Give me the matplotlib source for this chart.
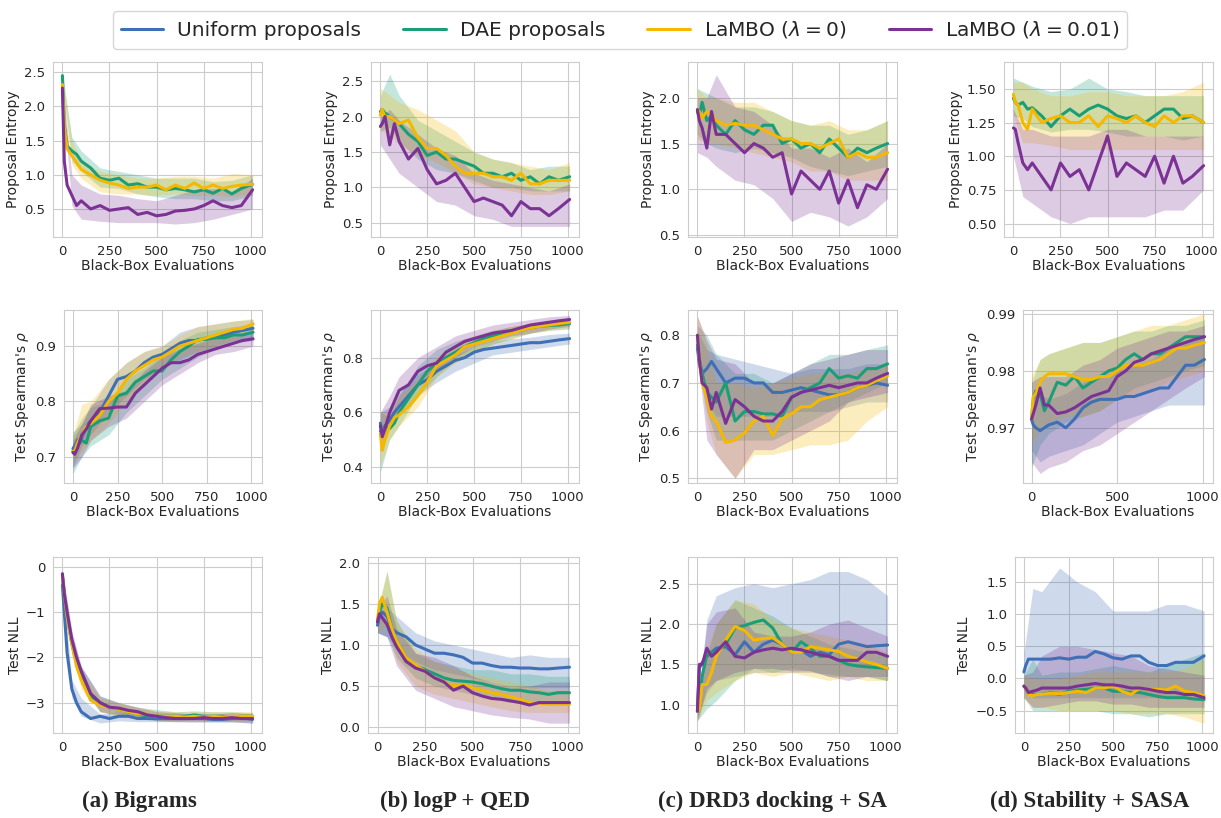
import matplotlib
matplotlib.use('Agg')
import matplotlib.pyplot as plt
import seaborn as sns

sns.set_style('whitegrid')
plt.rcParams['font.family'] = ['DejaVu Sans']

# x positions of the mean curves and of the shaded bands
evals = [0, 10, 25, 50, 75, 100, 150, 200, 250, 300, 350, 400, 450, 500,
         550, 600, 650, 700, 750, 800, 850, 900, 950, 1010]
band_evals = [0, 50, 100, 200, 300, 400, 500, 600, 700, 800, 900, 1010]

methods = ['Uniform proposals', 'DAE proposals',
           r'LaMBO ($\lambda = 0$)', r'LaMBO ($\lambda = 0.01$)']
colors = ['#3f6fb5', '#1b9e77', '#f5b800', '#7b3294']
tasks = ['(a) Bigrams', '(b) logP + QED', '(c) DRD3 docking + SA', '(d) Stability + SASA']
metrics = ['Proposal Entropy', "Test Spearman's $\\rho$", 'Test NLL']

# ---- row 1: proposal entropy (order: uniform, dae, lambo0, lambo0.01) ----
ent_a_mean = [None,
              [2.45, 1.75, 1.42, 1.35, 1.3, 1.2, 1.1, 0.95, 0.92, 0.95, 0.85, 0.87, 0.82, 0.82, 0.78, 0.8, 0.78, 0.75, 0.78, 0.73, 0.8, 0.72, 0.8, 0.86],
              [2.32, 1.7, 1.38, 1.28, 1.18, 1.08, 1.0, 0.92, 0.88, 0.85, 0.8, 0.82, 0.82, 0.85, 0.78, 0.85, 0.8, 0.88, 0.8, 0.85, 0.8, 0.83, 0.85, 0.86],
              [2.27, 1.2, 0.85, 0.7, 0.55, 0.62, 0.5, 0.55, 0.48, 0.5, 0.52, 0.42, 0.45, 0.4, 0.42, 0.47, 0.48, 0.5, 0.55, 0.62, 0.55, 0.52, 0.55, 0.78]]
ent_a_lo = [None,
            [2.35, 1.2, 1.05, 0.82, 0.8, 0.72, 0.68, 0.65, 0.65, 0.62, 0.62, 0.7],
            [2.25, 1.15, 0.95, 0.75, 0.72, 0.72, 0.7, 0.72, 0.7, 0.7, 0.68, 0.72],
            [2.2, 0.55, 0.35, 0.32, 0.3, 0.3, 0.3, 0.28, 0.3, 0.35, 0.42, 0.5]]
ent_a_hi = [None,
            [2.5, 1.55, 1.35, 1.1, 1.05, 1.0, 0.95, 0.95, 0.95, 0.9, 0.92, 1.0],
            [2.4, 1.5, 1.2, 1.05, 1.0, 0.95, 0.95, 0.98, 0.98, 0.95, 1.02, 1.0],
            [2.35, 1.0, 0.85, 0.72, 0.7, 0.65, 0.62, 0.7, 0.78, 0.8, 0.75, 0.95]]

ent_b_mean = [None,
              [2.07, 2.1, 2.05, 2.0, 1.95, 1.9, 1.75, 1.65, 1.45, 1.5, 1.4, 1.4, 1.35, 1.3, 1.2, 1.2, 1.15, 1.2, 1.1, 1.15, 1.05, 1.15, 1.1, 1.15],
              [2.02, 2.1, 2.0, 2.0, 1.95, 1.9, 1.95, 1.7, 1.55, 1.55, 1.45, 1.3, 1.2, 1.2, 1.2, 1.15, 1.15, 1.1, 1.2, 1.05, 1.05, 1.1, 1.1, 1.1],
              [1.86, 1.9, 2.0, 1.6, 1.9, 1.65, 1.4, 1.55, 1.25, 1.05, 1.1, 1.2, 1.0, 0.8, 0.85, 0.8, 0.75, 0.6, 0.8, 0.7, 0.7, 0.6, 0.7, 0.83]]
ent_b_lo = [None,
            [1.8, 1.85, 1.65, 1.4, 1.25, 1.2, 1.1, 1.0, 1.0, 0.95, 0.95, 0.95],
            [1.8, 1.75, 1.6, 1.45, 1.35, 1.2, 1.05, 1.0, 0.95, 0.9, 0.9, 0.95],
            [1.6, 1.4, 1.2, 1.0, 0.8, 0.75, 0.6, 0.55, 0.45, 0.45, 0.45, 0.45]]
ent_b_hi = [None,
            [2.3, 2.6, 2.3, 1.95, 1.8, 1.65, 1.5, 1.4, 1.35, 1.25, 1.3, 1.3],
            [2.4, 2.3, 2.2, 2.1, 1.95, 1.8, 1.5, 1.4, 1.35, 1.3, 1.25, 1.35],
            [2.0, 2.1, 1.95, 1.75, 1.55, 1.45, 1.2, 1.1, 1.05, 1.0, 0.95, 1.05]]

ent_c_mean = [None,
              [1.85, 1.8, 1.95, 1.75, 1.8, 1.7, 1.6, 1.75, 1.65, 1.6, 1.7, 1.7, 1.5, 1.55, 1.45, 1.5, 1.4, 1.55, 1.45, 1.35, 1.45, 1.4, 1.45, 1.5],
              [1.87, 1.85, 1.78, 1.85, 1.82, 1.75, 1.7, 1.72, 1.7, 1.7, 1.65, 1.6, 1.55, 1.55, 1.5, 1.5, 1.45, 1.5, 1.55, 1.35, 1.4, 1.35, 1.35, 1.4],
              [1.87, 1.75, 1.67, 1.45, 1.85, 1.6, 1.6, 1.5, 1.4, 1.5, 1.45, 1.35, 1.4, 0.95, 1.2, 1.1, 1.0, 1.2, 0.85, 1.1, 0.8, 1.05, 1.0, 1.22]]
ent_c_lo = [None,
            [1.6, 1.5, 1.45, 1.4, 1.45, 1.4, 1.35, 1.25, 1.2, 1.15, 1.2, 1.25],
            [1.55, 1.5, 1.5, 1.45, 1.4, 1.35, 1.3, 1.2, 1.2, 1.1, 1.1, 1.1],
            [1.4, 1.35, 1.25, 1.1, 1.05, 0.9, 0.65, 0.75, 0.7, 0.6, 0.7, 0.9]]
ent_c_hi = [None,
            [2.1, 2.05, 2.0, 1.9, 1.9, 1.85, 1.75, 1.7, 1.7, 1.6, 1.65, 1.75],
            [2.1, 2.0, 2.0, 1.95, 1.95, 1.85, 1.75, 1.7, 1.75, 1.65, 1.65, 1.75],
            [2.0, 2.0, 2.25, 1.9, 1.85, 1.7, 1.45, 1.45, 1.35, 1.45, 1.3, 1.5]]

ent_d_mean = [None,
              [1.43, 1.4, 1.38, 1.4, 1.35, 1.36, 1.3, 1.22, 1.3, 1.35, 1.3, 1.35, 1.38, 1.35, 1.3, 1.28, 1.3, 1.25, 1.3, 1.35, 1.35, 1.28, 1.3, 1.25],
              [1.46, 1.4, 1.38, 1.25, 1.2, 1.35, 1.25, 1.28, 1.3, 1.25, 1.25, 1.3, 1.22, 1.3, 1.28, 1.25, 1.3, 1.25, 1.22, 1.3, 1.25, 1.3, 1.3, 1.25],
              [1.21, 1.2, 1.1, 0.95, 0.9, 0.95, 0.85, 0.75, 0.95, 0.85, 0.9, 0.75, 0.95, 1.15, 0.85, 0.95, 0.9, 0.85, 1.0, 0.8, 1.0, 0.8, 0.85, 0.93]]
ent_d_lo = [None,
            [1.3, 1.28, 1.22, 1.18, 1.2, 1.2, 1.18, 1.15, 1.15, 1.15, 1.12, 1.15],
            [1.3, 1.1, 1.1, 1.08, 1.05, 1.05, 1.05, 1.05, 1.05, 1.05, 1.05, 1.05],
            [1.0, 0.7, 0.65, 0.55, 0.5, 0.55, 0.55, 0.55, 0.55, 0.6, 0.6, 0.75]]
ent_d_hi = [None,
            [1.58, 1.55, 1.52, 1.48, 1.5, 1.58, 1.5, 1.48, 1.45, 1.45, 1.45, 1.45],
            [1.55, 1.55, 1.5, 1.45, 1.45, 1.48, 1.48, 1.45, 1.45, 1.45, 1.48, 1.55],
            [1.35, 1.2, 1.2, 1.15, 1.15, 1.15, 1.2, 1.2, 1.15, 1.15, 1.15, 1.15]]

# ---- row 2: test spearman rho ----
rho_a_mean = [[0.715, 0.72, 0.73, 0.735, 0.755, 0.765, 0.78, 0.81, 0.84, 0.845, 0.855, 0.87, 0.88, 0.885, 0.895, 0.905, 0.91, 0.91, 0.915, 0.915, 0.92, 0.925, 0.928, 0.932],
              [0.71, 0.705, 0.72, 0.73, 0.725, 0.755, 0.765, 0.77, 0.81, 0.815, 0.835, 0.845, 0.855, 0.855, 0.875, 0.89, 0.9, 0.912, 0.912, 0.915, 0.915, 0.92, 0.92, 0.925],
              [0.71, 0.71, 0.725, 0.74, 0.755, 0.76, 0.775, 0.8, 0.815, 0.84, 0.855, 0.865, 0.875, 0.88, 0.89, 0.9, 0.905, 0.91, 0.915, 0.92, 0.925, 0.93, 0.932, 0.94],
              [0.708, 0.705, 0.715, 0.74, 0.75, 0.765, 0.787, 0.788, 0.79, 0.79, 0.815, 0.83, 0.845, 0.86, 0.87, 0.87, 0.875, 0.885, 0.89, 0.895, 0.9, 0.905, 0.91, 0.913]]
rho_a_lo = [[0.68, 0.72, 0.74, 0.78, 0.81, 0.84, 0.86, 0.875, 0.89, 0.9, 0.91, 0.915],
            [0.67, 0.7, 0.72, 0.74, 0.78, 0.81, 0.84, 0.86, 0.88, 0.895, 0.905, 0.91],
            [0.69, 0.71, 0.73, 0.76, 0.8, 0.83, 0.86, 0.88, 0.89, 0.9, 0.91, 0.925],
            [0.68, 0.7, 0.73, 0.755, 0.77, 0.8, 0.83, 0.85, 0.87, 0.885, 0.89, 0.9]]
rho_a_hi = [[0.745, 0.76, 0.79, 0.84, 0.87, 0.89, 0.9, 0.925, 0.935, 0.94, 0.945, 0.948],
            [0.74, 0.77, 0.79, 0.8, 0.84, 0.86, 0.885, 0.91, 0.925, 0.93, 0.935, 0.94],
            [0.74, 0.795, 0.8, 0.84, 0.87, 0.89, 0.9, 0.92, 0.935, 0.94, 0.945, 0.95],
            [0.73, 0.76, 0.795, 0.81, 0.82, 0.855, 0.88, 0.895, 0.905, 0.915, 0.92, 0.925]]

rho_b_mean = [[0.56, 0.52, 0.55, 0.57, 0.6, 0.62, 0.66, 0.7, 0.72, 0.75, 0.77, 0.79, 0.8, 0.82, 0.83, 0.835, 0.84, 0.845, 0.85, 0.855, 0.855, 0.86, 0.865, 0.87],
              [0.53, 0.52, 0.55, 0.54, 0.56, 0.6, 0.65, 0.7, 0.75, 0.78, 0.8, 0.82, 0.84, 0.855, 0.87, 0.88, 0.89, 0.895, 0.9, 0.91, 0.915, 0.918, 0.92, 0.925],
              [0.52, 0.46, 0.5, 0.55, 0.58, 0.59, 0.62, 0.66, 0.71, 0.77, 0.79, 0.81, 0.84, 0.85, 0.86, 0.87, 0.88, 0.89, 0.9, 0.91, 0.915, 0.92, 0.925, 0.93],
              [0.55, 0.51, 0.54, 0.6, 0.64, 0.68, 0.7, 0.75, 0.77, 0.78, 0.82, 0.84, 0.86, 0.87, 0.88, 0.89, 0.895, 0.9, 0.91, 0.92, 0.925, 0.93, 0.935, 0.94]]
rho_b_lo = [[0.5, 0.55, 0.6, 0.66, 0.71, 0.75, 0.78, 0.81, 0.82, 0.83, 0.84, 0.85],
            [0.38, 0.5, 0.55, 0.66, 0.73, 0.79, 0.82, 0.85, 0.87, 0.89, 0.9, 0.905],
            [0.4, 0.5, 0.55, 0.62, 0.73, 0.78, 0.82, 0.85, 0.87, 0.89, 0.9, 0.91],
            [0.48, 0.55, 0.62, 0.71, 0.76, 0.8, 0.84, 0.86, 0.88, 0.89, 0.905, 0.915]]
rho_b_hi = [[0.6, 0.62, 0.67, 0.74, 0.78, 0.81, 0.84, 0.86, 0.87, 0.875, 0.885, 0.89],
            [0.6, 0.58, 0.66, 0.77, 0.83, 0.86, 0.88, 0.9, 0.915, 0.925, 0.935, 0.94],
            [0.6, 0.6, 0.66, 0.72, 0.8, 0.85, 0.88, 0.9, 0.915, 0.925, 0.935, 0.94],
            [0.6, 0.66, 0.73, 0.8, 0.84, 0.88, 0.9, 0.92, 0.93, 0.94, 0.95, 0.955]]

rho_c_mean = [[0.775, 0.74, 0.72, 0.73, 0.745, 0.73, 0.7, 0.71, 0.71, 0.7, 0.7, 0.68, 0.68, 0.685, 0.69, 0.685, 0.68, 0.675, 0.675, 0.68, 0.69, 0.695, 0.7, 0.695],
              [0.78, 0.75, 0.72, 0.68, 0.67, 0.66, 0.7, 0.62, 0.64, 0.64, 0.635, 0.635, 0.63, 0.67, 0.68, 0.69, 0.7, 0.73, 0.71, 0.715, 0.71, 0.73, 0.73, 0.74],
              [0.8, 0.75, 0.7, 0.67, 0.63, 0.62, 0.575, 0.58, 0.595, 0.62, 0.63, 0.59, 0.625, 0.635, 0.65, 0.65, 0.665, 0.67, 0.675, 0.68, 0.69, 0.695, 0.705, 0.715],
              [0.8, 0.75, 0.7, 0.69, 0.645, 0.68, 0.615, 0.665, 0.65, 0.63, 0.62, 0.62, 0.64, 0.67, 0.68, 0.685, 0.69, 0.695, 0.69, 0.695, 0.7, 0.7, 0.71, 0.72]]
rho_c_lo = [[0.74, 0.66, 0.63, 0.63, 0.63, 0.63, 0.64, 0.64, 0.64, 0.65, 0.66, 0.66],
            [0.74, 0.64, 0.58, 0.58, 0.58, 0.58, 0.6, 0.62, 0.64, 0.66, 0.68, 0.7],
            [0.76, 0.62, 0.55, 0.5, 0.55, 0.55, 0.56, 0.57, 0.57, 0.58, 0.62, 0.65],
            [0.76, 0.58, 0.55, 0.5, 0.56, 0.56, 0.58, 0.6, 0.62, 0.66, 0.67, 0.68]]
rho_c_hi = [[0.81, 0.77, 0.76, 0.75, 0.74, 0.73, 0.72, 0.73, 0.73, 0.73, 0.74, 0.74],
            [0.82, 0.8, 0.76, 0.72, 0.72, 0.7, 0.72, 0.74, 0.76, 0.76, 0.77, 0.78],
            [0.84, 0.78, 0.7, 0.7, 0.69, 0.7, 0.71, 0.72, 0.72, 0.72, 0.73, 0.74],
            [0.84, 0.79, 0.75, 0.74, 0.7, 0.7, 0.72, 0.74, 0.75, 0.76, 0.77, 0.77]]

rho_d_mean = [[0.9715, 0.9705, 0.97, 0.9695, 0.97, 0.9705, 0.971, 0.97, 0.9715, 0.9735, 0.9745, 0.975, 0.975, 0.975, 0.9755, 0.9755, 0.976, 0.9765, 0.977, 0.977, 0.979, 0.981, 0.981, 0.982],
              [0.9715, 0.975, 0.9765, 0.976, 0.973, 0.9745, 0.978, 0.9775, 0.979, 0.977, 0.978, 0.979, 0.98, 0.9805, 0.982, 0.983, 0.982, 0.983, 0.983, 0.984, 0.985, 0.986, 0.986, 0.986],
              [0.9715, 0.9755, 0.976, 0.978, 0.979, 0.9795, 0.9795, 0.9795, 0.979, 0.9785, 0.9785, 0.979, 0.979, 0.98, 0.981, 0.981, 0.981, 0.9815, 0.982, 0.983, 0.984, 0.984, 0.9845, 0.985],
              [0.9715, 0.9725, 0.974, 0.977, 0.974, 0.974, 0.9725, 0.9728, 0.9735, 0.9745, 0.9755, 0.976, 0.9765, 0.979, 0.98, 0.9815, 0.982, 0.983, 0.9835, 0.984, 0.9845, 0.985, 0.9855, 0.986]]
rho_d_lo = [[0.966, 0.964, 0.965, 0.966, 0.967, 0.969, 0.971, 0.972, 0.973, 0.974, 0.974, 0.974],
            [0.963, 0.967, 0.969, 0.971, 0.972, 0.973, 0.975, 0.977, 0.978, 0.979, 0.98, 0.981],
            [0.967, 0.97, 0.971, 0.972, 0.972, 0.973, 0.975, 0.976, 0.977, 0.978, 0.979, 0.98],
            [0.964, 0.962, 0.963, 0.964, 0.966, 0.967, 0.969, 0.971, 0.973, 0.975, 0.977, 0.979]]
rho_d_hi = [[0.976, 0.976, 0.975, 0.976, 0.978, 0.979, 0.98, 0.981, 0.982, 0.984, 0.985, 0.986],
            [0.978, 0.982, 0.983, 0.984, 0.985, 0.985, 0.986, 0.987, 0.987, 0.988, 0.988, 0.989],
            [0.979, 0.982, 0.983, 0.984, 0.985, 0.985, 0.986, 0.987, 0.988, 0.988, 0.989, 0.99],
            [0.978, 0.979, 0.979, 0.979, 0.981, 0.982, 0.984, 0.985, 0.986, 0.987, 0.987, 0.988]]

# ---- row 3: test NLL ----
nll_a_mean = [[-0.4, -1.0, -1.9, -2.7, -3.0, -3.2, -3.35, -3.3, -3.35, -3.3, -3.3, -3.35, -3.35, -3.35, -3.35, -3.35, -3.35, -3.35, -3.35, -3.37, -3.37, -3.35, -3.33, -3.37],
              [-0.2, -0.6, -1.1, -1.7, -2.1, -2.4, -2.85, -3.0, -3.1, -3.15, -3.2, -3.25, -3.3, -3.3, -3.3, -3.3, -3.3, -3.27, -3.3, -3.3, -3.3, -3.32, -3.3, -3.3],
              [-0.2, -0.6, -1.1, -1.7, -2.2, -2.5, -2.95, -3.05, -3.1, -3.15, -3.2, -3.25, -3.25, -3.3, -3.3, -3.3, -3.32, -3.3, -3.32, -3.3, -3.32, -3.3, -3.3, -3.3],
              [-0.15, -0.6, -1.0, -1.6, -2.0, -2.3, -2.8, -3.0, -3.1, -3.12, -3.17, -3.2, -3.27, -3.3, -3.33, -3.35, -3.35, -3.35, -3.33, -3.35, -3.35, -3.33, -3.35, -3.35]]
nll_a_lo = [[-0.5, -2.9, -3.3, -3.45, -3.4, -3.42, -3.42, -3.42, -3.43, -3.43, -3.43, -3.45],
            [-0.3, -1.9, -2.6, -3.2, -3.3, -3.35, -3.4, -3.4, -3.38, -3.4, -3.4, -3.4],
            [-0.3, -1.9, -2.7, -3.2, -3.3, -3.35, -3.38, -3.4, -3.4, -3.4, -3.4, -3.4],
            [-0.25, -1.8, -2.6, -3.2, -3.25, -3.3, -3.4, -3.42, -3.42, -3.42, -3.42, -3.45]]
nll_a_hi = [[-0.3, -2.5, -2.9, -3.25, -3.2, -3.25, -3.27, -3.28, -3.28, -3.3, -3.28, -3.3],
            [-0.1, -1.5, -2.2, -2.85, -3.0, -3.1, -3.15, -3.2, -3.18, -3.2, -3.2, -3.22],
            [-0.1, -1.5, -2.3, -2.9, -3.0, -3.1, -3.18, -3.2, -3.2, -3.2, -3.2, -3.2],
            [-0.05, -1.4, -2.2, -2.85, -3.0, -3.1, -3.2, -3.22, -3.25, -3.25, -3.22, -3.25]]

nll_b_mean = [[1.24, 1.35, 1.4, 1.35, 1.2, 1.15, 1.1, 1.0, 0.95, 0.9, 0.9, 0.88, 0.85, 0.78, 0.78, 0.75, 0.73, 0.73, 0.72, 0.72, 0.71, 0.71, 0.72, 0.73],
              [1.28, 1.4, 1.5, 1.45, 1.2, 1.05, 0.85, 0.75, 0.7, 0.65, 0.6, 0.57, 0.56, 0.55, 0.53, 0.5, 0.47, 0.45, 0.45, 0.43, 0.42, 0.4, 0.42, 0.42],
              [1.3, 1.5, 1.58, 1.4, 1.2, 1.05, 0.85, 0.76, 0.68, 0.6, 0.55, 0.5, 0.52, 0.48, 0.45, 0.42, 0.4, 0.37, 0.34, 0.3, 0.29, 0.28, 0.28, 0.28],
              [1.28, 1.38, 1.33, 1.25, 1.1, 0.98, 0.8, 0.72, 0.68, 0.6, 0.55, 0.45, 0.5, 0.42, 0.38, 0.35, 0.34, 0.32, 0.3, 0.27, 0.3, 0.3, 0.3, 0.3]]
nll_b_lo = [[1.15, 1.1, 0.95, 0.8, 0.7, 0.65, 0.6, 0.55, 0.5, 0.48, 0.48, 0.48],
            [1.15, 1.1, 0.85, 0.6, 0.5, 0.45, 0.4, 0.35, 0.3, 0.3, 0.3, 0.3],
            [1.15, 1.25, 0.8, 0.5, 0.4, 0.35, 0.3, 0.25, 0.2, 0.18, 0.18, 0.18],
            [1.15, 1.1, 0.75, 0.45, 0.35, 0.25, 0.2, 0.15, 0.12, 0.1, 0.05, 0.05]]
nll_b_hi = [[1.35, 1.45, 1.35, 1.15, 1.05, 1.0, 0.95, 0.9, 0.85, 0.88, 0.85, 0.85],
            [1.4, 1.9, 1.3, 0.9, 0.8, 0.75, 0.7, 0.7, 0.65, 0.65, 0.62, 0.62],
            [1.45, 1.9, 1.3, 0.95, 0.8, 0.72, 0.65, 0.6, 0.55, 0.5, 0.45, 0.45],
            [1.4, 1.6, 1.2, 0.9, 0.85, 0.75, 0.62, 0.55, 0.5, 0.5, 0.55, 0.55]]

nll_c_mean = [[0.92, 1.45, 1.52, 1.6, 1.65, 1.7, 1.72, 1.62, 1.78, 1.65, 1.75, 1.8, 1.75, 1.65, 1.68, 1.6, 1.65, 1.62, 1.75, 1.78, 1.75, 1.72, 1.73, 1.74],
              [0.92, 1.0, 1.35, 1.62, 1.65, 1.65, 1.75, 1.95, 1.98, 2.02, 2.05, 1.95, 1.75, 1.65, 1.78, 1.7, 1.6, 1.6, 1.55, 1.5, 1.48, 1.47, 1.46, 1.45],
              [0.92, 0.95, 1.25, 1.25, 1.4, 1.6, 1.8, 1.97, 1.92, 1.8, 1.82, 1.83, 1.75, 1.65, 1.65, 1.72, 1.7, 1.68, 1.66, 1.6, 1.57, 1.53, 1.5, 1.45],
              [0.92, 1.5, 1.5, 1.7, 1.6, 1.65, 1.78, 1.6, 1.58, 1.65, 1.68, 1.7, 1.68, 1.7, 1.68, 1.65, 1.62, 1.6, 1.55, 1.55, 1.55, 1.65, 1.65, 1.6]]
nll_c_lo = [[0.82, 1.15, 1.3, 1.35, 1.4, 1.4, 1.4, 1.4, 1.38, 1.35, 1.35, 1.3],
            [0.8, 0.95, 1.05, 1.3, 1.45, 1.4, 1.45, 1.42, 1.35, 1.35, 1.35, 1.3],
            [0.8, 1.05, 1.15, 1.3, 1.4, 1.35, 1.4, 1.35, 1.3, 1.35, 1.3, 1.3],
            [0.8, 1.2, 1.3, 1.4, 1.45, 1.45, 1.42, 1.42, 1.35, 1.3, 1.35, 1.35]]
nll_c_hi = [[1.0, 2.05, 2.35, 2.45, 2.5, 2.45, 2.5, 2.55, 2.65, 2.65, 2.55, 2.35],
            [1.0, 1.6, 2.0, 2.3, 2.2, 2.1, 1.95, 1.85, 1.75, 1.7, 1.65, 1.6],
            [1.0, 1.7, 2.0, 2.3, 2.25, 2.05, 1.95, 1.9, 1.85, 1.8, 1.75, 1.65],
            [1.0, 2.0, 2.15, 2.2, 1.9, 1.85, 1.85, 1.9, 2.0, 2.05, 1.95, 1.85]]

nll_d_mean = [[0.1, 0.2, 0.3, 0.3, 0.3, 0.3, 0.3, 0.32, 0.3, 0.33, 0.33, 0.42, 0.38, 0.32, 0.3, 0.35, 0.35, 0.25, 0.2, 0.2, 0.25, 0.25, 0.25, 0.35],
              [-0.12, -0.15, -0.25, -0.25, -0.25, -0.25, -0.22, -0.25, -0.2, -0.18, -0.17, -0.15, -0.15, -0.2, -0.2, -0.22, -0.22, -0.25, -0.28, -0.3, -0.3, -0.3, -0.32, -0.33],
              [-0.12, -0.15, -0.25, -0.27, -0.25, -0.25, -0.23, -0.24, -0.22, -0.2, -0.22, -0.15, -0.15, -0.12, -0.2, -0.25, -0.15, -0.17, -0.17, -0.18, -0.12, -0.2, -0.22, -0.27],
              [-0.12, -0.15, -0.22, -0.2, -0.18, -0.15, -0.15, -0.15, -0.15, -0.12, -0.1, -0.08, -0.1, -0.1, -0.12, -0.15, -0.15, -0.17, -0.2, -0.22, -0.22, -0.25, -0.25, -0.3]]
nll_d_lo = [[-0.15, -0.3, -0.3, -0.3, -0.3, -0.3, -0.3, -0.3, -0.3, -0.3, -0.3, -0.3],
            [-0.3, -0.5, -0.5, -0.5, -0.5, -0.5, -0.55, -0.55, -0.6, -0.55, -0.55, -0.55],
            [-0.3, -0.45, -0.45, -0.5, -0.5, -0.5, -0.5, -0.55, -0.55, -0.55, -0.6, -0.7],
            [-0.3, -0.45, -0.45, -0.4, -0.35, -0.35, -0.4, -0.4, -0.45, -0.45, -0.45, -0.45]]
nll_d_hi = [[0.4, 1.4, 1.35, 1.72, 1.5, 1.35, 1.05, 1.05, 1.05, 1.15, 1.15, 1.05],
            [0.05, 0.3, 0.05, 0.1, 0.1, 0.15, 0.2, 0.15, 0.1, 0.2, 0.3, 0.4],
            [0.05, 0.0, 0.0, 0.0, 0.05, 0.1, 0.1, 0.1, 0.1, 0.1, 0.15, 0.3],
            [0.05, 0.1, 0.35, 0.5, 0.5, 0.45, 0.4, 0.35, 0.2, 0.15, 0.1, 0.05]]

panels = [
    [(ent_a_mean, ent_a_lo, ent_a_hi), (ent_b_mean, ent_b_lo, ent_b_hi),
     (ent_c_mean, ent_c_lo, ent_c_hi), (ent_d_mean, ent_d_lo, ent_d_hi)],
    [(rho_a_mean, rho_a_lo, rho_a_hi), (rho_b_mean, rho_b_lo, rho_b_hi),
     (rho_c_mean, rho_c_lo, rho_c_hi), (rho_d_mean, rho_d_lo, rho_d_hi)],
    [(nll_a_mean, nll_a_lo, nll_a_hi), (nll_b_mean, nll_b_lo, nll_b_hi),
     (nll_c_mean, nll_c_lo, nll_c_hi), (nll_d_mean, nll_d_lo, nll_d_hi)],
]

ylims = [[(0.09, 2.65), (0.3, 2.77), (0.48, 2.39), (0.40, 1.70)],
         [(0.653, 0.965), (0.34, 0.975), (0.49, 0.853), (0.9603, 0.9907)],
         [(-3.67, 0.22), (-0.07, 2.07), (0.65, 2.83), (-0.85, 1.89)]]
yticks = [[[0.5, 1.0, 1.5, 2.0, 2.5], [0.5, 1.0, 1.5, 2.0, 2.5], [0.5, 1.0, 1.5, 2.0], [0.5, 0.75, 1.0, 1.25, 1.5]],
          [[0.7, 0.8, 0.9], [0.4, 0.6, 0.8], [0.5, 0.6, 0.7, 0.8], [0.97, 0.98, 0.99]],
          [[-3, -2, -1, 0], [0.0, 0.5, 1.0, 1.5, 2.0], [1.0, 1.5, 2.0, 2.5], [-0.5, 0.0, 0.5, 1.0, 1.5]]]

# layout in pixels
W, H = 1221, 818
col_right = [262, 579, 897, 1213]
row_span = [(62, 237), (310, 483), (557, 733)]
col_left = [[53, 371, 688, 1004], [64, 371, 688, 1023], [53, 368, 688, 1015]]

fig = plt.figure(figsize=(W / 100, H / 100), dpi=100)

for r in range(3):
    for c in range(4):
        top, bot = row_span[r]
        left = col_left[r][c]
        ax = fig.add_axes([left / W, 1 - bot / H, (col_right[c] - left) / W, (bot - top) / H])
        means, los, his = panels[r][c]
        for i in range(4):
            if means[i] is None:
                continue
            ax.fill_between(band_evals, los[i], his[i], color=colors[i], alpha=0.25, lw=0)
            ax.plot(evals, means[i], color=colors[i], lw=2.2, label=methods[i])
        ax.set_xlim(-50, 1060)
        ax.set_ylim(*ylims[r][c])
        ax.set_yticks(yticks[r][c])
        if r == 1 and c == 3:
            ax.set_xticks([0, 500, 1000])
        else:
            ax.set_xticks([0, 250, 500, 750, 1000])
        ax.tick_params(labelsize=9.5, pad=2)
        ax.set_xlabel('Black-Box Evaluations', fontsize=10, labelpad=1)
        ax.set_ylabel(metrics[r], fontsize=10, labelpad=3)

handles = [plt.Line2D([], [], color=colors[i], lw=2.2) for i in range(4)]
fig.legend(handles, methods, loc='center', bbox_to_anchor=(620 / W, 1 - 30 / H), ncol=4,
           fontsize=14.5, frameon=True, handlelength=2.1, columnspacing=2.1, handletextpad=0.7)

caption_x = [139, 455, 773, 1090]
for c in range(4):
    fig.text(caption_x[c] / W, 1 - 801 / H, tasks[c], ha='center', va='center',
             fontfamily='Liberation Serif', fontweight='bold', fontsize=16.5)

fig.savefig('out.png', dpi=100)
